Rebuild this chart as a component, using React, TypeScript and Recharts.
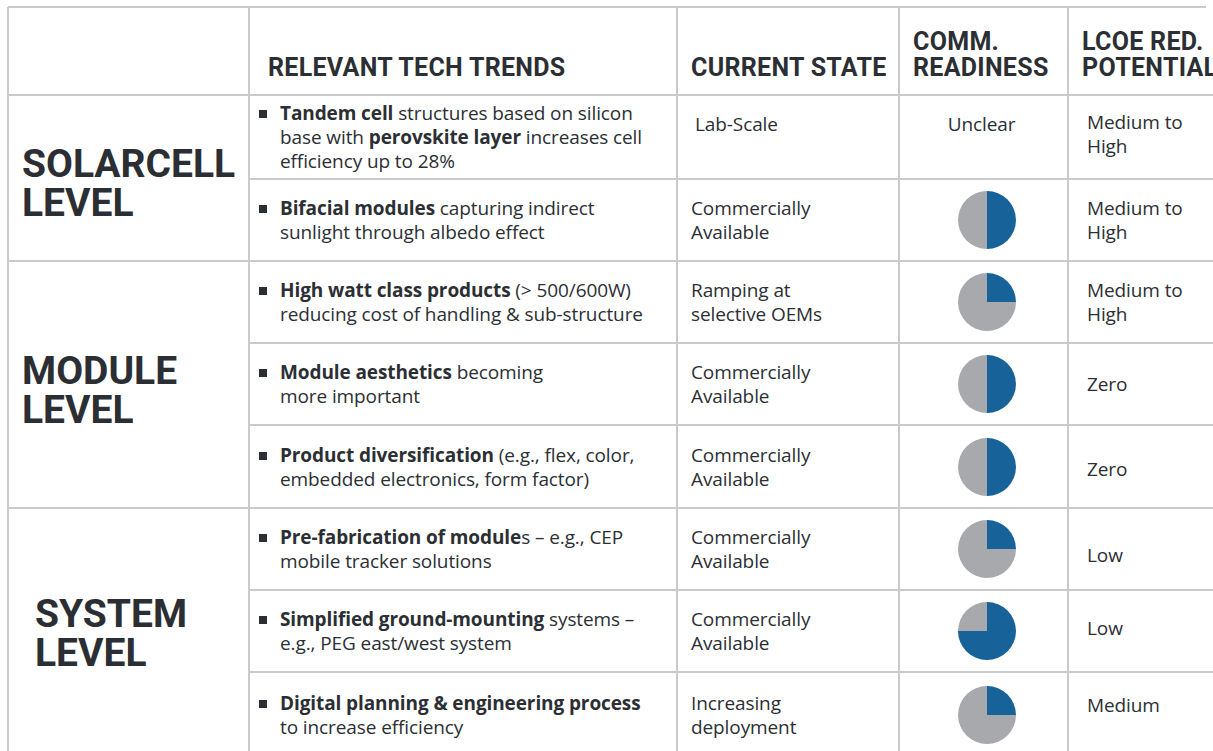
import { Cell, Pie, PieChart } from 'recharts';

const levels = ['SOLARCELL\nLEVEL', 'MODULE\nLEVEL', 'SYSTEM\nLEVEL'];
const levelRowCounts = [2, 3, 3];

const headers = [
    'RELEVANT TECH TRENDS',
    'CURRENT STATE',
    'COMM.\nREADINESS',
    'LCOE RED.\nPOTENTIAL',
];

// bold lead-in of each trend, then the rest (|...| marks extra bold words)
const trendBold = [
    'Tandem cell',
    'Bifacial modules',
    'High watt class products',
    'Module aesthetics',
    'Product diversification',
    'Pre-fabrication of module',
    'Simplified ground-mounting',
    'Digital planning & engineering process',
];
const trendRest = [
    ' structures based on silicon\nbase with |perovskite layer| increases cell\nefficiency up to 28%',
    ' capturing indirect\nsunlight through albedo effect',
    ' (> 500/600W)\nreducing cost of handling & sub-structure',
    ' becoming\nmore important',
    ' (e.g., flex, color,\nembedded electronics, form factor)',
    's – e.g., CEP\nmobile tracker solutions',
    ' systems –\ne.g., PEG east/west system',
    '\nto increase efficiency',
];

const currentState = [
    'Lab-Scale',
    'Commercially\nAvailable',
    'Ramping at\nselective OEMs',
    'Commercially\nAvailable',
    'Commercially\nAvailable',
    'Commercially\nAvailable',
    'Commercially\nAvailable',
    'Increasing\ndeployment',
];

// share of the harvey ball filled (null = "Unclear")
const readiness: (number | null)[] = [null, 0.5, 0.25, 0.5, 0.5, 0.25, 0.75, 0.25];

const lcoe = [
    'Medium to\nHigh',
    'Medium to\nHigh',
    'Medium to\nHigh',
    'Zero',
    'Zero',
    'Low',
    'Low',
    'Medium',
];

const colX = [8, 249, 677, 899, 1068, 1260];
const rowY = [7, 95, 179, 261, 343, 425, 508, 590, 672, 760];

const LINE = '#c9cacc';
const INK = '#2b2f34';
const BLUE = '#18629a';
const GREY = '#a7a9ad';
const HEAD_FONT = "'Roboto', sans-serif";
const BODY_FONT = "'Open Sans', 'Noto Sans', sans-serif";

// visual centre (y) of each big level label
const levelCenter = [182.5, 389, 632];
// per-row nudges for the LCOE column
const lcoeShift = [-6, 0, 0, 0, 4, 12, -6, -20];

function HarveyBall({ value }: { value: number }) {
    const data = [
        { name: 'ready', value },
        { name: 'rest', value: 1 - value },
    ];
    return (
        <PieChart width={64} height={64}>
            <Pie
                data={data}
                dataKey="value"
                cx="50%"
                cy="50%"
                outerRadius={29}
                startAngle={90}
                endAngle={-270}
                stroke="none"
                isAnimationActive={false}
            >
                <Cell fill={BLUE} />
                <Cell fill={GREY} />
            </Pie>
        </PieChart>
    );
}

function TrendText({ bold, rest }: { bold: string; rest: string }) {
    const parts = rest.split('|');
    return (
        <span>
            <b>{bold}</b>
            {parts.map((p, i) =>
                i % 2 === 1 ? <b key={i}>{p}</b> : <span key={i}>{p}</span>,
            )}
        </span>
    );
}

export default function App() {
    const hLines: { x1: number; x2: number; y: number }[] = [];
    hLines.push({ x1: colX[0], x2: 1206, y: rowY[0] });
    hLines.push({ x1: colX[0], x2: 1213, y: rowY[1] });
    let acc = 0;
    const levelStarts: number[] = [];
    levelRowCounts.forEach((n) => {
        levelStarts.push(acc);
        acc += n;
    });
    for (let r = 1; r < 8; r++) {
        const isLevel = levelStarts.includes(r);
        hLines.push({ x1: isLevel ? colX[0] : colX[1], x2: 1213, y: rowY[r + 1] });
    }

    const cell = (
        left: number,
        top: number,
        width: number,
        height: number,
    ): React.CSSProperties => ({
        position: 'absolute',
        left,
        top,
        width,
        height,
        display: 'flex',
        flexDirection: 'column',
        justifyContent: 'center',
        whiteSpace: 'pre',
        boxSizing: 'border-box',
    });

    const body: React.CSSProperties = {
        fontFamily: BODY_FONT,
        fontSize: 19,
        lineHeight: '24px',
        letterSpacing: -0.1,
    };

    return (
        <div
            style={{
                position: 'fixed',
                left: 0,
                top: 0,
                width: 1213,
                height: 751,
                overflow: 'hidden',
                background: '#fff',
                color: INK,
            }}
        >
            {hLines.map((l, i) => (
                <div
                    key={`h${i}`}
                    style={{
                        position: 'absolute',
                        left: l.x1,
                        top: l.y - 1,
                        width: l.x2 - l.x1,
                        height: 2,
                        background: LINE,
                    }}
                />
            ))}
            {colX.slice(0, 5).map((x, i) => (
                <div
                    key={`v${i}`}
                    style={{
                        position: 'absolute',
                        left: x - 1,
                        top: rowY[0],
                        width: 2,
                        height: 760,
                        background: LINE,
                    }}
                />
            ))}

            {/* headers */}
            {headers.map((h, i) => (
                <div
                    key={`hd${i}`}
                    style={{
                        position: 'absolute',
                        left: colX[i + 1] + (i === 0 ? 19 : 14),
                        bottom: 751 - 81,
                        fontFamily: HEAD_FONT,
                        fontWeight: 700,
                        fontSize: 25,
                        lineHeight: '26px',
                        whiteSpace: 'pre',
                        letterSpacing: 0.3,
                    }}
                >
                    {h}
                </div>
            ))}

            {/* level labels */}
            {levels.map((lv, i) => (
                <div
                    key={`lv${i}`}
                    style={{
                        position: 'absolute',
                        left: i === 2 ? 35 : 22,
                        top: levelCenter[i] + 1.5 - 39,
                        whiteSpace: 'pre',
                        fontFamily: HEAD_FONT,
                        fontWeight: 700,
                        fontSize: 39,
                        lineHeight: '39px',
                    }}
                >
                    {lv}
                </div>
            ))}

            {trendBold.map((b, r) => {
                const top = rowY[r + 1];
                const h = rowY[r + 2] - top;
                const hh = r === 7 ? 86 : h;
                const s = lcoeShift[r];
                return (
                    <div key={`row${r}`}>
                        <div
                            style={{
                                position: 'absolute',
                                left: 259,
                                top: top + hh / 2 - (r === 0 ? 27 : 15),
                                width: 8,
                                height: 8,
                                background: INK,
                            }}
                        />
                        <div style={{ ...cell(280, top, 400, hh), ...body }}>
                            <TrendText bold={b} rest={trendRest[r]} />
                        </div>
                        <div
                            style={{
                                ...cell(r === 0 ? 695 : 691, top, 200, hh),
                                ...body,
                                justifyContent: r === 0 ? 'flex-start' : 'center',
                                paddingTop: r === 0 ? 17 : 0,
                            }}
                        >
                            {currentState[r]}
                        </div>
                        <div
                            style={{
                                ...cell(colX[3], top, colX[4] - colX[3], hh),
                                ...body,
                                alignItems: 'center',
                                justifyContent: r === 0 ? 'flex-start' : 'center',
                                paddingTop: r === 0 ? 17 : 0,
                            }}
                        >
                            {readiness[r] === null ? (
                                <span style={{ marginLeft: -4 }}>Unclear</span>
                            ) : (
                                <div style={{ marginLeft: 7 }}>
                                    <HarveyBall value={readiness[r] as number} />
                                </div>
                            )}
                        </div>
                        <div
                            style={{
                                ...cell(1087, top, 140, hh),
                                ...body,
                                paddingTop: s > 0 ? s : 0,
                                paddingBottom: s < 0 ? -s : 0,
                            }}
                        >
                            {lcoe[r]}
                        </div>
                    </div>
                );
            })}
        </div>
    );
}
